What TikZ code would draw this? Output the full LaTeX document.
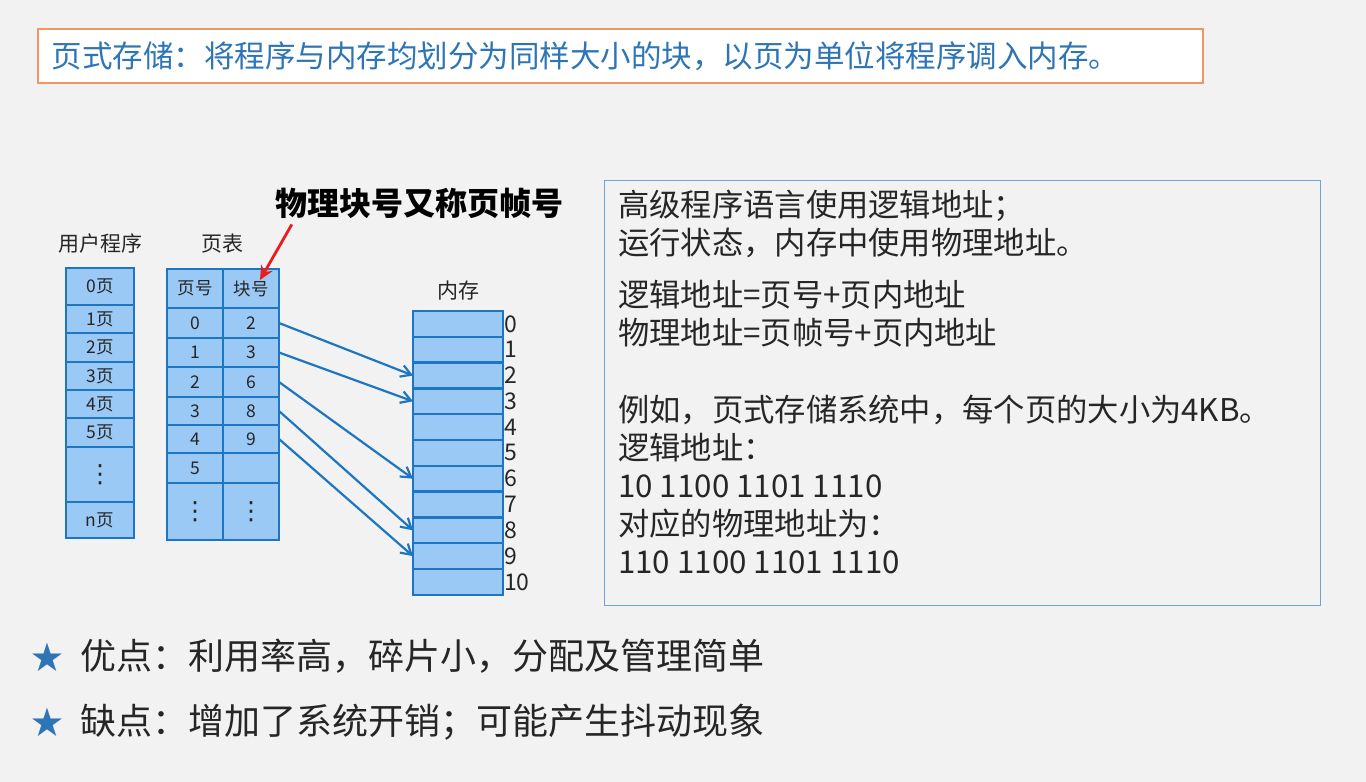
\documentclass[tikz,border=0pt]{standalone}
\usepackage{fontspec}
\setmainfont{Noto Sans CJK SC}
\newfontfamily\symfont{DejaVu Sans}
\usepackage{xcolor}
\usetikzlibrary{arrows.meta, positioning, calc}

\definecolor{slidebg}{RGB}{242,242,242}
\definecolor{cellfill}{RGB}{155,201,245}
\definecolor{cellline}{RGB}{30,117,194}
\definecolor{titleblue}{RGB}{46,117,182}
\definecolor{titleedge}{RGB}{240,150,100}
\definecolor{infoedge}{RGB}{110,165,215}
\definecolor{textgrey}{RGB}{38,38,38}
\definecolor{pointred}{RGB}{232,30,30}

\newcommand{\pxfont}[1]{\fontsize{#1}{#1}\selectfont}
\newcommand{\dotcol}{{\symfont\pxfont{25}⋮}}

\begin{document}
\begin{tikzpicture}[
    x=1pt, y=-1pt,
    node distance=0pt,
    cell/.style={
      rectangle, draw=cellline, fill=cellfill,
      line width=2.4pt, inner sep=0pt, outer sep=0pt,
      text=textgrey, font=\pxfont{17.5}
    },
    ucell/.style={cell, minimum width=68},
    pcell/.style={cell, minimum width=56},
    mcell/.style={cell, minimum width=90, minimum height=25.8},
    headtext/.style={inner sep=0pt, text=textgrey, font=\pxfont{21}},
    memnum/.style={inner sep=1pt, text=textgrey, font=\pxfont{23}},
    titlebox/.style={
      rectangle, draw=titleedge, fill=white, line width=1.8pt,
      text width=1137, inner xsep=14, inner ysep=0pt,
      minimum height=54, align=left,
      text=titleblue, font=\pxfont{30.5}
    },
    infobox/.style={rectangle, draw=infoedge, line width=1.2pt},
    infotext/.style={
      inner sep=0pt, align=left, text=textgrey,
      font=\fontsize{31.3}{38}\selectfont
    },
    notetext/.style={inner sep=0pt, text=black, font=\pxfont{32}\bfseries},
    pointtext/.style={inner sep=0pt, text=textgrey, font=\pxfont{36}},
    bullet/.style={inner sep=0pt, text=titleblue, font=\pxfont{32}},
    arr/.style={-{Straight Barb[length=10pt,width=12pt]}, line width=2.2pt, color=cellline},
    redarr/.style={-{Stealth[length=14pt,width=13pt]}, line width=2.8pt, color=pointred}
  ]
    \fill[slidebg] (0,0) rectangle (1366,782);
    \useasboundingbox (0,0) rectangle (1366,782);

    % title bar
    \node[titlebox, anchor=north west] (title) at (37,28)
      {页式存储：将程序与内存均划分为同样大小的块，以页为单位将程序调入内存。};

    % user program
    \node[headtext] (ucap) at (100,244) {用户程序};
    \node[ucell, minimum height=37, anchor=north] (u0) at (100,268) {0页};
    \node[ucell, minimum height=28, below=of u0] (u1) {1页};
    \node[ucell, minimum height=29, below=of u1] (u2) {2页};
    \node[ucell, minimum height=28, below=of u2] (u3) {3页};
    \node[ucell, minimum height=28, below=of u3] (u4) {4页};
    \node[ucell, minimum height=29, below=of u4] (u5) {5页};
    \node[ucell, minimum height=55, below=of u5] (u6) {\dotcol};
    \node[ucell, minimum height=36, below=of u6] (un) {n页};

    % page table
    \node[headtext] (pcap) at (222,244) {页表};
    \node[pcell, minimum height=39, anchor=north] (ph) at (195,269) {页号};
    \node[pcell, minimum height=39, right=of ph] (bh) {块号};
    \foreach \i/\pg/\blk/\h [remember=\i as \prev (initially h)] in
      {0/0/2/30, 1/1/3/29, 2/2/6/30, 3/3/8/28, 4/4/9/28, 5/5//30,
       6/\dotcol/\dotcol/57}{
      \node[pcell, minimum height=\h, below=of p\prev] (p\i) {\pg};
      \node[pcell, minimum height=\h, below=of b\prev] (b\i) {\blk};
    }

    % memory
    \node[headtext] (mcap) at (458,291) {内存};
    \foreach \i in {0,...,10}{
      \node[mcell, anchor=north] (m\i) at (458,{311+25.8*\i}) {};
      \node[memnum, anchor=west] (n\i) at (m\i.east) {\i};
    }

    % page -> frame
    \foreach \src/\dst in {0/2, 1/3, 2/6, 3/8, 4/9}
      \draw[arr] (b\src.east) -- (m\dst.west);

    % note
    \node[notetext] (note) at (419,203) {物理块号又称页帧号};
    \draw[redarr] ([xshift=17pt,yshift=-6pt]note.south west) -- ([xshift=-19pt,yshift=-11pt]bh.north east);

    % explanation
    \node[infobox, minimum width=716, minimum height=425, anchor=north west] (info) at (604,180) {};
    \node[infotext, anchor=north west] (facts) at (618,190) {
      高级程序语言使用逻辑地址；\\
      运行状态，内存中使用物理地址。\\[14pt]
      逻辑地址=页号+页内地址\\
      物理地址=页帧号+页内地址\\[39pt]
      例如，页式存储系统中，每个页的大小为4KB。\\
      逻辑地址：\\
      10 1100 1101 1110\\
      对应的物理地址为：\\
      110 1100 1101 1110
    };

    % pros and cons
    \node[bullet] (star1) at (47,657) {★};
    \node[pointtext, anchor=west] (pro) at (80,656) {优点：利用率高，碎片小，分配及管理简单};
    \node[bullet] (star2) at (47,722) {★};
    \node[pointtext, anchor=west] (con) at (80,722) {缺点：增加了系统开销；可能产生抖动现象};
\end{tikzpicture}
\end{document}
